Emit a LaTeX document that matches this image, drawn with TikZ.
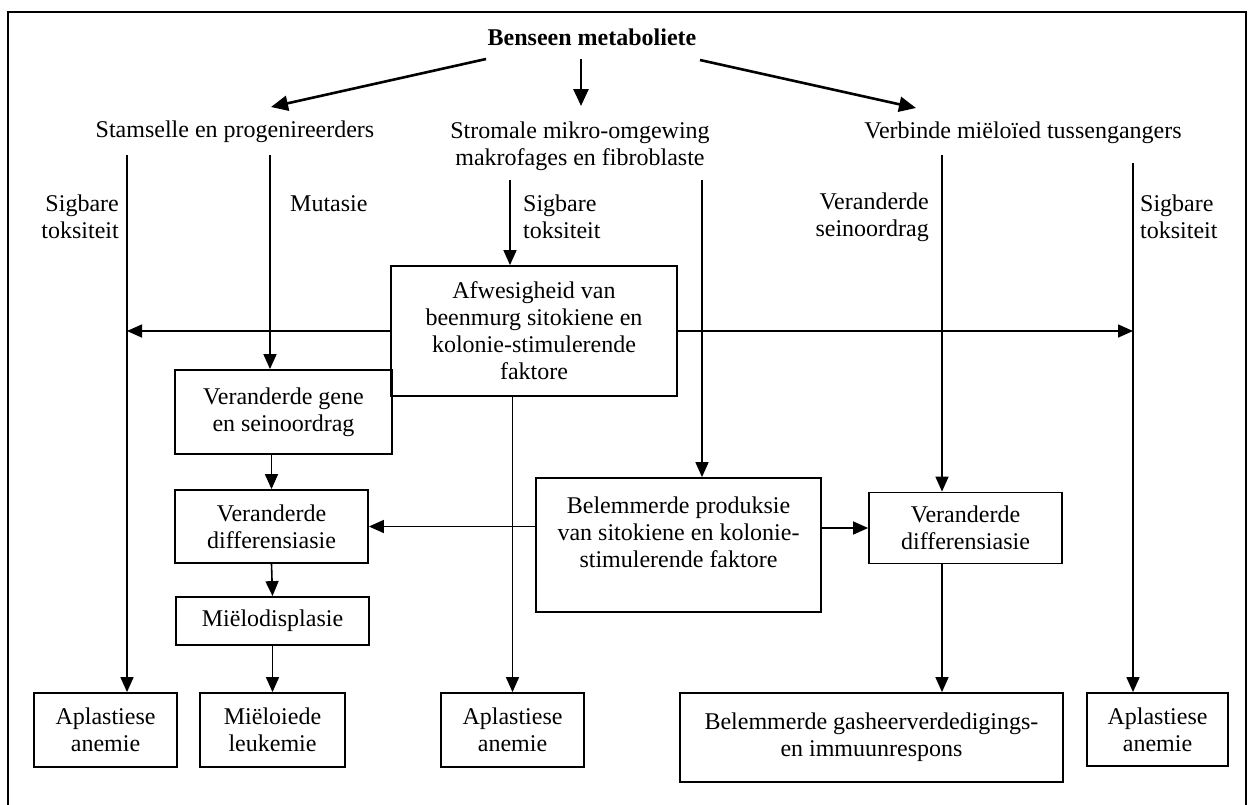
\documentclass[tikz,border=0pt]{standalone}
\usepackage{fontspec}
\setmainfont{Liberation Serif}
\usetikzlibrary{arrows.meta}
\begin{document}
\begin{tikzpicture}[x=1pt,y=-1pt,
  every node/.style={font=\fontsize{24}{27}\selectfont, inner sep=0pt},
  box/.style={draw, line width=1.8pt, align=center},
  conn/.style={line width=1.6pt, -{Triangle[length=15pt,width=13pt]}},
  thick arr/.style={line width=2.6pt, -{Triangle[length=17pt,width=15pt]}},
  lbl/.style={align=left}]
\useasboundingbox (0,0) rectangle (1251,804);
% frame
\draw[line width=1.8pt] (8,810) -- (8,12) -- (1246,12) -- (1246,810);

% top level
\node[font=\fontsize{24}{27}\selectfont\bfseries] (title) at (592,37) {Benseen metaboliete};
\node (stam) at (235,132) {Stamselle en progenireerders};
\node[align=center] (strom) at (580,146) {Stromale mikro-omgewing\\makrofages en fibroblaste};
\node (verb) at (1023,133) {Verbinde mi\"elo\"ied tussengangers};

\coordinate (t1) at (486,59);  \coordinate (s1) at (271,107);
\coordinate (t2) at (581,59);  \coordinate (s2) at (581,106);
\coordinate (t3) at (700,60);  \coordinate (s3) at (916,108);
\draw[thick arr] (t1) -- (s1);
\draw[thick arr] (t2) -- (s2);
\draw[thick arr] (t3) -- (s3);

% boxes
\node[box, minimum width=286, minimum height=130] (afw) at (534,331)
  {Afwesigheid van\\beenmurg sitokiene en\\kolonie-stimulerende\\faktore};
\node[box, minimum width=217, minimum height=84] (gene) at (283.5,412)
  {Veranderde gene\\en seinoordrag};
\node[box, minimum width=193, minimum height=73] (vdl) at (271.5,526.5)
  {Veranderde\\differensiasie};
\node[box, minimum width=285, minimum height=134] (bel) at (678.5,545) {};
\node[align=center] (beltext) at (678.5,532)
  {Belemmerde produksie\\van sitokiene en kolonie-\\stimulerende faktore};
\node[box, minimum width=193, minimum height=71] (vdr) at (965.5,528)
  {Veranderde\\differensiasie};
\node[box, minimum width=193, minimum height=48] (miel) at (272.5,621)
  {Mi\"elodisplasie};
\node[box, minimum width=143, minimum height=74] (apl1) at (105.5,730)
  {Aplastiese\\anemie};
\node[box, minimum width=145, minimum height=74] (leuk) at (272.5,730)
  {Mi\"eloiede\\leukemie};
\node[box, minimum width=143, minimum height=74] (apl2) at (512.5,730)
  {Aplastiese\\anemie};
\node[box, minimum width=383, minimum height=89] (gash) at (871.5,737.5)
  {Belemmerde gasheerverdedigings-\\en immuunrespons};
\node[box, minimum width=141, minimum height=73] (apl3) at (1157.5,729.5)
  {Aplastiese\\anemie};

% vertical start points
\coordinate (c1) at (127,155);
\coordinate (c2) at (270,155);
\coordinate (c3) at (510,180);
\coordinate (c6) at (702,180);
\coordinate (c4) at (942,155);
\coordinate (c5) at (1133,163);

\draw[conn] (c1) -- (c1 |- apl1.north);
\draw[conn] (c2) -- (c2 |- gene.north);
\draw[conn] (c3) -- (c3 |- afw.north);
\draw[conn] (c6) -- (c6 |- bel.north);
\draw[conn] (c4) -- (c4 |- vdr.north);
\draw[conn] (c5) -- (c5 |- apl3.north);

\draw[conn] (afw.west) -- (c1 |- afw.west);
\draw[conn] (afw.east) -- (c5 |- afw.east);
\draw[conn] (vdl.north |- gene.south) -- (vdl.north);
\draw[conn] (vdl.south) -- (miel.north);
\draw[conn] (miel.south) -- (leuk.north);
\draw[conn] (bel.west |- vdl.east) -- (vdl.east);
\draw[conn] (bel.east |- vdr.west) -- (vdr.west);
\draw[conn] (apl2.north |- afw.south) -- (apl2.north);
\draw[conn] (c4 |- vdr.south) -- (c4 |- gash.north);

% labels
\node[align=right, anchor=east] (l1) at (119,217) {Sigbare\\toksiteit};
\node[anchor=west] (l2) at (290,204) {Mutasie};
\node[lbl, anchor=west] (l3) at (523,217) {Sigbare\\toksiteit};
\node[align=right, anchor=east] (l4) at (929,217) {Veranderde\\seinoordrag};
\node[lbl, anchor=west] (l5) at (1140,217) {Sigbare\\toksiteit};
\end{tikzpicture}
\end{document}
